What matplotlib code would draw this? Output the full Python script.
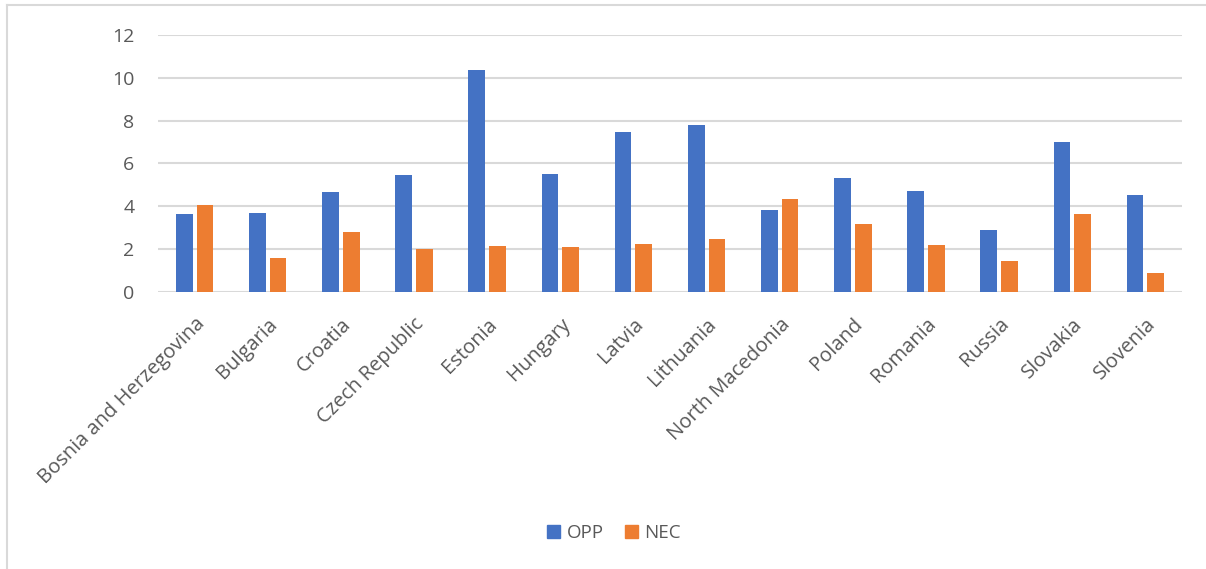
import matplotlib
matplotlib.use("Agg")
import matplotlib.pyplot as plt
import numpy as np
from matplotlib.lines import Line2D
from matplotlib.patches import Patch

countries = ["Bosnia and Herzegovina", "Bulgaria", "Croatia", "Czech Republic",
             "Estonia", "Hungary", "Latvia", "Lithuania", "North Macedonia",
             "Poland", "Romania", "Russia", "Slovakia", "Slovenia"]
opp = [3.64, 3.67, 4.67, 5.47, 10.37, 5.50, 7.47, 7.78, 3.84, 5.30, 4.71, 2.91, 6.99, 4.54]
nec = [4.06, 1.58, 2.78, 2.03, 2.17, 2.08, 2.23, 2.48, 4.33, 3.19, 2.20, 1.43, 3.64, 0.91]
yticks = [0, 2, 4, 6, 8, 10, 12]

BLUE = "#4472C4"
ORANGE = "#ED7D31"
GRID = "#D9D9D9"
TXT = "#595959"

plt.rcParams['font.family'] = ['Open Sans', 'DejaVu Sans']

fig = plt.figure(figsize=(12.06, 5.69), dpi=100)
ax = fig.add_axes([158/1206, 1 - 292/569, (1182-158)/1206, (292-35)/569])

x = np.arange(len(countries))
w = 0.228
off = 0.142
ax.bar(x - off, opp, width=w, color=BLUE, label="OPP", zorder=3)
ax.bar(x + off, nec, width=w, color=ORANGE, label="NEC", zorder=3)

ax.set_xlim(-0.5, len(countries) - 0.5)
ax.set_ylim(0, 12)
ax.set_yticks(yticks)
ax.set_yticklabels([str(t) for t in yticks], fontsize=14, color=TXT)
ax.yaxis.grid(True, color=GRID, linewidth=1.5, zorder=0)
ax.set_axisbelow(True)
for s in ax.spines.values():
    s.set_visible(False)
ax.tick_params(axis='y', length=0, pad=17)
ax.tick_params(axis='x', length=0, pad=16)
ax.set_xticks(x)
ax.set_xticklabels(countries, rotation=45, ha='right', va='top',
                   rotation_mode='anchor', fontsize=14.5, color=TXT)

handles = [Patch(color=BLUE, label="OPP"), Patch(color=ORANGE, label="NEC")]
fig.legend(handles=handles, loc='center', bbox_to_anchor=(614/1206, 1 - 533/569),
           ncol=2, frameon=False, fontsize=13.5, handlelength=0.7, handleheight=0.7,
           handletextpad=0.35, columnspacing=1.1, labelcolor=TXT)

# outer chart border (top and left visible)
fig.add_artist(Line2D([7/1206, 7/1206], [0, 1 - 5/569], transform=fig.transFigure,
                      color=GRID, linewidth=1.5))
fig.add_artist(Line2D([7/1206, 1], [1 - 5/569, 1 - 5/569], transform=fig.transFigure,
                      color=GRID, linewidth=1.5))

fig.savefig("out.png", dpi=100)
